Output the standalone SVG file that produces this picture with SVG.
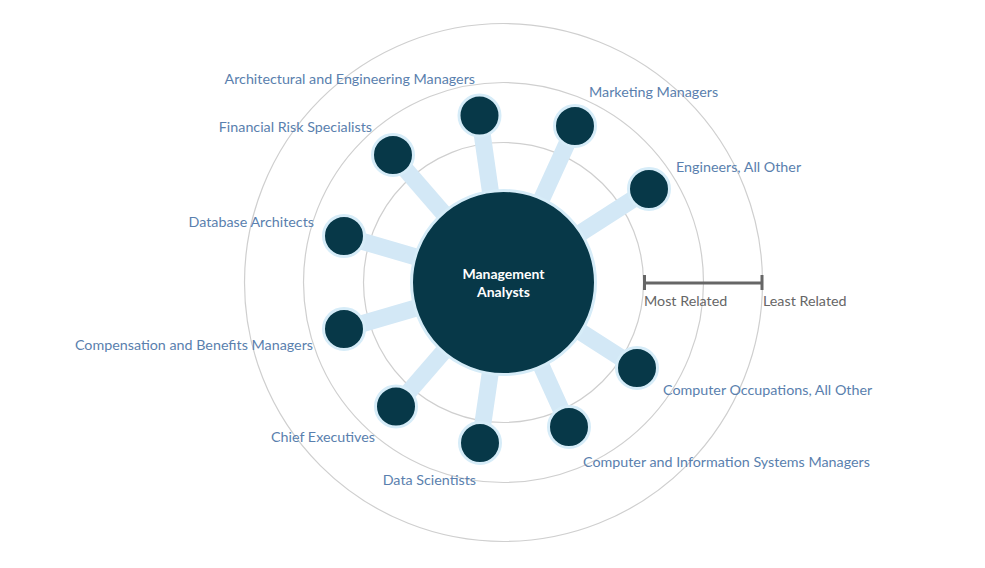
<svg xmlns="http://www.w3.org/2000/svg" width="985" height="568" viewBox="0 0 985 568">
<style>
.ring{fill:none;stroke:#cfcfcf;stroke-width:1.2}
.conn{stroke:#d3e8f6;stroke-width:17;stroke-linecap:butt}
.node{fill:#073848;stroke:#d6ecf8;stroke-width:3}
.lbl{font-family:Lato,"Open Sans",sans-serif;font-size:14.3px;fill:#5a7fae}
.ctr{font-family:Lato,"Open Sans",sans-serif;font-size:14px;font-weight:bold;fill:#ffffff;text-anchor:middle}
.scl{font-family:Lato,"Open Sans",sans-serif;font-size:14.3px;fill:#666666}
</style>
<rect width="985" height="568" fill="#ffffff"/>
<g id="rings">
<circle class="ring" cx="503.5" cy="282.5" r="140"/>
<circle class="ring" cx="503.5" cy="282.5" r="200"/>
<circle class="ring" cx="503.5" cy="282.5" r="259"/>
</g>
<g id="connectors">
<line class="conn" x1="503.5" y1="282.5" x2="479.5" y2="115.5"/>
<line class="conn" x1="503.5" y1="282.5" x2="575" y2="126"/>
<line class="conn" x1="503.5" y1="282.5" x2="649" y2="189"/>
<line class="conn" x1="503.5" y1="282.5" x2="393" y2="155"/>
<line class="conn" x1="503.5" y1="282.5" x2="344" y2="236"/>
<line class="conn" x1="503.5" y1="282.5" x2="344" y2="329"/>
<line class="conn" x1="503.5" y1="282.5" x2="396" y2="406.5"/>
<line class="conn" x1="503.5" y1="282.5" x2="480" y2="443"/>
<line class="conn" x1="503.5" y1="282.5" x2="569" y2="427"/>
<line class="conn" x1="503.5" y1="282.5" x2="637" y2="368"/>
</g>
<g id="center">
<circle class="node" cx="503.5" cy="282.5" r="92"/>
<text class="ctr" x="503.5" y="279">Management</text>
<text class="ctr" x="503.5" y="297">Analysts</text>
</g>
<g id="n-arch">
<circle class="node" cx="479.5" cy="115.5" r="20.5"/>
<text class="lbl" x="475" y="84" text-anchor="end">Architectural and Engineering Managers</text>
</g>
<g id="n-marketing">
<circle class="node" cx="575" cy="126" r="20.5"/>
<text class="lbl" x="589" y="97">Marketing Managers</text>
</g>
<g id="n-engineers">
<circle class="node" cx="649" cy="189" r="20.5"/>
<text class="lbl" x="676" y="172">Engineers, All Other</text>
</g>
<g id="n-finrisk">
<circle class="node" cx="393" cy="155" r="20.5"/>
<text class="lbl" x="372" y="132" text-anchor="end">Financial Risk Specialists</text>
</g>
<g id="n-database">
<circle class="node" cx="344" cy="236" r="20.5"/>
<text class="lbl" x="314" y="227" text-anchor="end">Database Architects</text>
</g>
<g id="n-compensation">
<circle class="node" cx="344" cy="329" r="20.5"/>
<text class="lbl" x="313" y="350" text-anchor="end">Compensation and Benefits Managers</text>
</g>
<g id="n-chief">
<circle class="node" cx="396" cy="406.5" r="20.5"/>
<text class="lbl" x="375" y="442" text-anchor="end">Chief Executives</text>
</g>
<g id="n-datasci">
<circle class="node" cx="480" cy="443" r="20.5"/>
<text class="lbl" x="476" y="485" text-anchor="end">Data Scientists</text>
</g>
<g id="n-cism">
<circle class="node" cx="569" cy="427" r="20.5"/>
<text class="lbl" x="583" y="467">Computer and Information Systems Managers</text>
</g>
<g id="n-compocc">
<circle class="node" cx="637" cy="368" r="20.5"/>
<text class="lbl" x="663" y="395">Computer Occupations, All Other</text>
</g>
<g id="scale">
<line x1="644" y1="283" x2="762" y2="283" stroke="#666666" stroke-width="3"/>
<line x1="644.5" y1="275" x2="644.5" y2="290" stroke="#666666" stroke-width="3"/>
<line x1="762" y1="275" x2="762" y2="290" stroke="#666666" stroke-width="3"/>
<text class="scl" x="644" y="306">Most Related</text>
<text class="scl" x="763" y="306">Least Related</text>
</g>
</svg>
